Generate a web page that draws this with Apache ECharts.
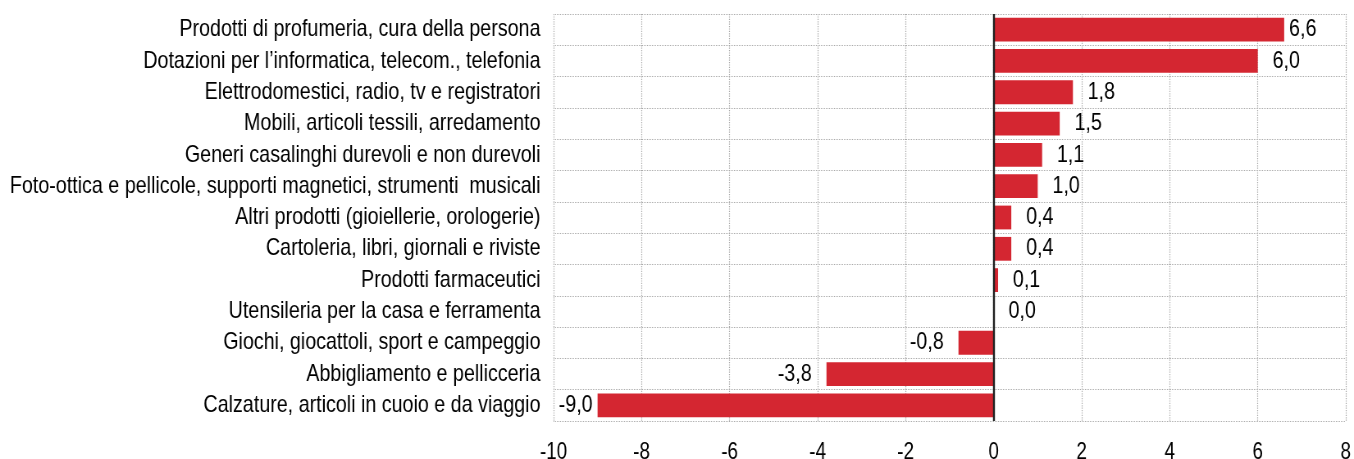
<!DOCTYPE html>
<html>
<head>
<meta charset="utf-8">
<script src="https://cdn.jsdelivr.net/npm/echarts@6/dist/echarts.min.js"></script>
<style>
  html, body { margin: 0; padding: 0; background: #fff; overflow: hidden; }
  /* no narrow font installed: draw wider and squeeze horizontally */
  #chart { width: 1651px; height: 459px; transform: scaleX(0.8201); transform-origin: 0 0; }
</style>
</head>
<body>
<div id="chart"></div>
<script>
// categories top to bottom
const categories = [
  'Prodotti di profumeria, cura della persona',
  'Dotazioni per l\u2019informatica, telecom., telefonia',
  'Elettrodomestici, radio, tv e registratori',
  'Mobili, articoli tessili, arredamento',
  'Generi casalinghi durevoli e non durevoli',
  'Foto-ottica e pellicole, supporti magnetici, strumenti  musicali',
  'Altri prodotti (gioiellerie, orologerie)',
  'Cartoleria, libri, giornali e riviste',
  'Prodotti farmaceutici',
  'Utensileria per la casa e ferramenta',
  'Giochi, giocattoli, sport e campeggio',
  'Abbigliamento e pellicceria',
  'Calzature, articoli in cuoio e da viaggio'
];
const values = [6.6, 6.0, 1.8, 1.5, 1.1, 1.0, 0.4, 0.4, 0.1, 0.0, -0.8, -3.8, -9.0];

const font = '"Liberation Sans", Arial, sans-serif';
const chart = echarts.init(document.getElementById('chart'));

const option = {
  backgroundColor: '#fff',
  animation: false,
  grid: { left: 675, right: 10, top: 14, bottom: 38, outerBoundsMode: 'none' },
  xAxis: {
    type: 'value',
    min: -10,
    max: 8,
    interval: 2,
    axisLine: { show: false },
    axisTick: { show: false },
    axisLabel: { color: '#000', fontFamily: font, fontSize: 23, margin: 20 },
    splitLine: { show: true, lineStyle: { color: '#ababab', type: 'dotted', width: 1.2 } }
  },
  yAxis: {
    type: 'category',
    data: categories,
    inverse: true,
    axisLine: { show: false },
    axisTick: { show: false },
    axisLabel: { interval: 0, color: '#000', fontFamily: font, fontSize: 24, margin: 16 },
    splitLine: { show: true, interval: 0, lineStyle: { color: '#ababab', type: 'dotted', width: 1 } }
  },
  series: [{
    type: 'bar',
    data: values.map(v => ({
      value: v,
      // labels near the plot edges sit closer to the bar
      label: { position: v < 0 ? 'left' : 'right', distance: Math.abs(v) > 6.5 ? 6 : 18 }
    })),
    barCategoryGap: '24%',
    itemStyle: { color: '#d42631' },
    label: {
      show: true,
      color: '#000',
      fontFamily: font,
      fontSize: 24,
      formatter: p => p.value.toFixed(1).replace('.', ',')
    },
    markLine: {
      silent: true,
      symbol: 'none',
      label: { show: false },
      lineStyle: { color: '#222', type: 'solid', width: 2.4 },
      data: [{ xAxis: 0 }]
    }
  }]
};
chart.setOption(option);
</script>
</body>
</html>
